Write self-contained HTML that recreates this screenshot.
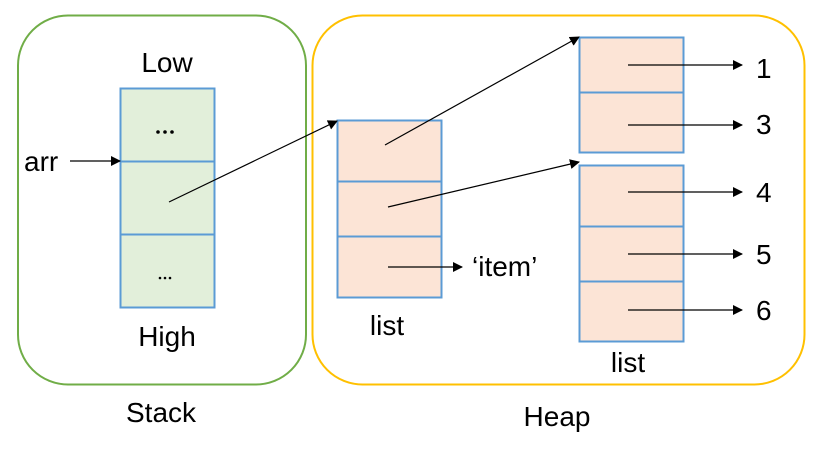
<!DOCTYPE html>
<html><head><meta charset="utf-8"><style>
body{margin:0;background:#fff;}
svg text{font-family:"Liberation Sans",sans-serif;fill:#000;}
</style></head><body>
<svg width="824" height="450" viewBox="0 0 824 450" xmlns="http://www.w3.org/2000/svg">
<defs><marker id="a" markerWidth="10" markerHeight="10" refX="9" refY="5" orient="auto" markerUnits="userSpaceOnUse"><path d="M0,0 L10,5 L0,10 z" fill="#000"/></marker></defs>
<rect x="18" y="15.5" width="288" height="369" rx="50" fill="none" stroke="#70ad47" stroke-width="2"/>
<rect x="312.5" y="15.5" width="492" height="369" rx="50" fill="none" stroke="#ffc000" stroke-width="2"/>
<g stroke="#5b9bd5" stroke-width="2" fill="#e2efda">
<rect x="120.5" y="88.5" width="94" height="73"/><rect x="120.5" y="161.5" width="94" height="73"/><rect x="120.5" y="234.5" width="94" height="73"/>
</g>
<g stroke="#5b9bd5" stroke-width="2" fill="#fce4d6">
<rect x="337.5" y="120.5" width="104" height="61"/><rect x="337.5" y="181.5" width="104" height="55"/><rect x="337.5" y="236.5" width="104" height="61"/>
<rect x="579.5" y="37.5" width="104" height="55"/><rect x="579.5" y="92.5" width="104" height="60"/>
<rect x="579.5" y="165.5" width="104" height="61"/><rect x="579.5" y="226.5" width="104" height="55"/><rect x="579.5" y="281.5" width="104" height="60"/>
</g>
<g stroke="#000" stroke-width="1.2" marker-end="url(#a)">
<line x1="70" y1="161" x2="120" y2="161"/>
<line x1="169" y1="202" x2="337" y2="121"/>
<line x1="385" y1="145" x2="579" y2="37"/>
<line x1="388" y1="207" x2="579" y2="162"/>
<line x1="388" y1="267" x2="462" y2="267"/>
<line x1="628" y1="65" x2="742" y2="65"/>
<line x1="628" y1="125" x2="742" y2="125"/>
<line x1="628" y1="192" x2="742" y2="192"/>
<line x1="628" y1="254" x2="742" y2="254"/>
<line x1="628" y1="310" x2="742" y2="310"/>
</g>
<g font-size="28">
<text x="167" y="72" text-anchor="middle">Low</text>
<text x="167" y="346" text-anchor="middle">High</text>
<text x="161" y="422" text-anchor="middle">Stack</text>
<text x="557" y="426" text-anchor="middle">Heap</text>
<text x="24" y="171">arr</text>
<text x="387" y="335" text-anchor="middle">list</text>
<text x="628" y="372" text-anchor="middle">list</text>
<text x="472" y="276">‘item’</text>
<text x="756" y="78">1</text><text x="756" y="134">3</text><text x="756" y="202">4</text><text x="756" y="264">5</text><text x="756" y="320">6</text>
</g>
<g fill="#000"><circle cx="158" cy="132" r="1.8"/><circle cx="165" cy="132" r="1.8"/><circle cx="172" cy="132" r="1.8"/>
<circle cx="160" cy="278" r="1.3"/><circle cx="165" cy="278" r="1.3"/><circle cx="170" cy="278" r="1.3"/></g>
</svg>
</body></html>
